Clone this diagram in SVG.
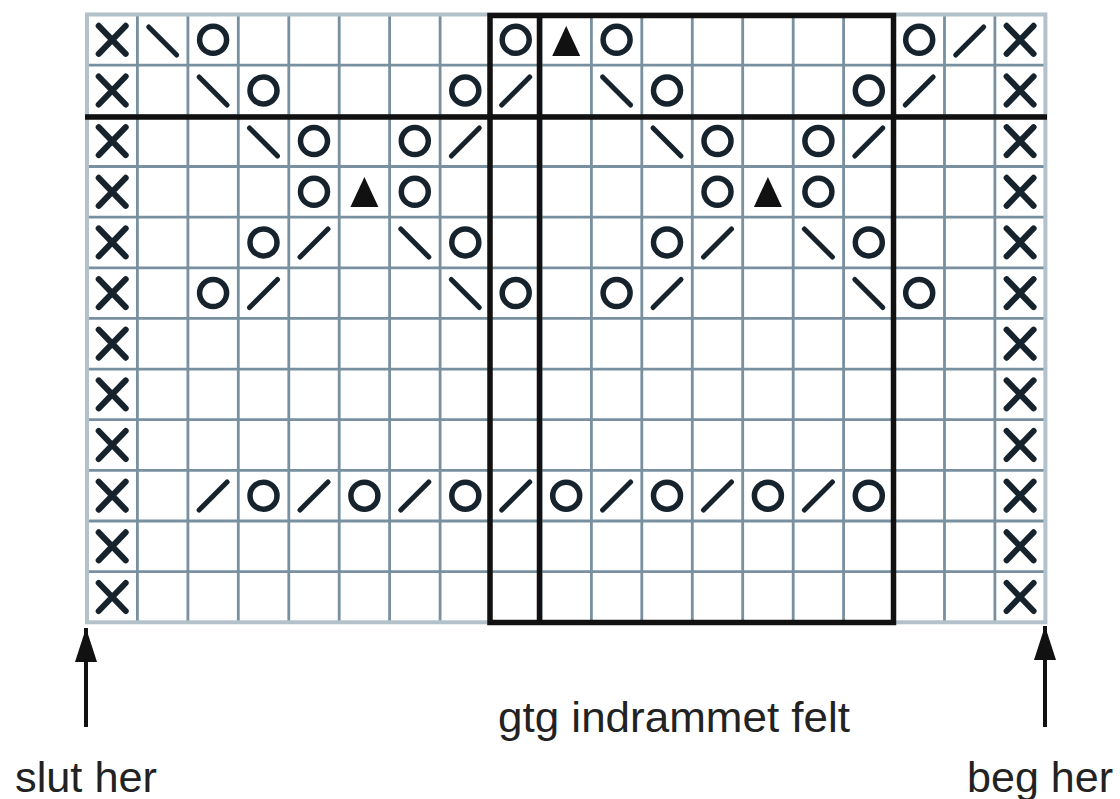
<svg xmlns="http://www.w3.org/2000/svg" xmlns:xlink="http://www.w3.org/1999/xlink" width="1120" height="799" viewBox="0 0 1120 799">
<style>
.grid{stroke:#7890a0;stroke-width:2.8;fill:none}
.border{stroke:#b3c1ca;stroke-width:4;fill:none}
.thick{stroke:#111;stroke-width:5.5;fill:none}
.sym{stroke:#16232c;fill:none}
.lbl{font-family:"Liberation Sans",Arial,sans-serif;font-size:43px;fill:#222}
.arrow{stroke:#111;stroke-width:4;fill:none}
</style>
<defs>
<g id="sx"><path class="sym" stroke-width="6" stroke-linecap="round" d="M-13.5,-14 L13.5,14 M13.5,-14 L-13.5,14"/></g>
<g id="so"><circle class="sym" stroke-width="5.5" r="13.5"/></g>
<g id="sb"><path class="sym" stroke-width="5" stroke-linecap="round" d="M-14,-14 L14,14"/></g>
<g id="sf"><path class="sym" stroke-width="5" stroke-linecap="round" d="M-14,14 L14,-14"/></g>
<g id="st"><polygon points="0,-15 14,15 -14,15" fill="#111"/></g>
<marker id="ah" markerUnits="userSpaceOnUse" markerWidth="36" markerHeight="22" refX="34" refY="11" orient="auto"><path d="M0,0 L34,11 L0,22 z" fill="#111"/></marker>
</defs>
<rect width="1120" height="799" fill="#fff"/>
<g id="grid">
<path class="grid" d="M137.4,14.5V622.3 M187.9,14.5V622.3 M238.3,14.5V622.3 M288.8,14.5V622.3 M339.2,14.5V622.3 M389.6,14.5V622.3 M440.1,14.5V622.3 M490.5,14.5V622.3 M541,14.5V622.3 M591.4,14.5V622.3 M641.8,14.5V622.3 M692.3,14.5V622.3 M742.7,14.5V622.3 M793.2,14.5V622.3 M843.6,14.5V622.3 M894,14.5V622.3 M944.5,14.5V622.3 M994.9,14.5V622.3 M87,65.2H1045.4 M87,115.8H1045.4 M87,166.5H1045.4 M87,217.1H1045.4 M87,267.8H1045.4 M87,318.4H1045.4 M87,369.1H1045.4 M87,419.7H1045.4 M87,470.4H1045.4 M87,521H1045.4 M87,571.7H1045.4"/>
<rect class="border" x="87" y="14.5" width="958.4" height="607.8"/>
</g>
<g id="frame">
<path class="thick" stroke-width="4" d="M85,117H1047"/>
<rect class="thick" x="490" y="15.5" width="403.5" height="607"/>
<path class="thick" d="M539.5,15.5V622.5"/>
</g>
<g id="stitches">
<use href="#sx" x="112.2" y="39.8"/><use href="#sb" x="162.7" y="41"/><use href="#so" x="213.1" y="39.8"/>
<use href="#so" x="515.7" y="39.8"/><use href="#st" x="566.2" y="41"/><use href="#so" x="616.6" y="39.8"/>
<use href="#so" x="919.2" y="39.8"/><use href="#sf" x="969.7" y="41"/><use href="#sx" x="1020.1" y="39.8"/>
<use href="#sx" x="112.2" y="90.5"/><use href="#sb" x="213.1" y="91"/><use href="#so" x="263.5" y="90.5"/>
<use href="#so" x="465.3" y="90.5"/><use href="#sf" x="515.7" y="91"/>
<use href="#sb" x="616.6" y="91"/><use href="#so" x="667" y="90.5"/>
<use href="#so" x="868.8" y="90.5"/><use href="#sf" x="919.2" y="91"/><use href="#sx" x="1020.1" y="90.5"/>
<use href="#sx" x="112.2" y="141.1"/><use href="#sb" x="263.5" y="142"/><use href="#so" x="314" y="141.1"/>
<use href="#so" x="414.8" y="141.1"/><use href="#sf" x="465.3" y="142"/>
<use href="#sb" x="667" y="142"/><use href="#so" x="717.5" y="141.1"/>
<use href="#so" x="818.4" y="141.1"/><use href="#sf" x="868.8" y="142"/><use href="#sx" x="1020.1" y="141.1"/>
<use href="#sx" x="112.2" y="191.8"/><use href="#so" x="314" y="191.8"/><use href="#st" x="364.4" y="192"/><use href="#so" x="414.8" y="191.8"/>
<use href="#so" x="717.5" y="191.8"/><use href="#st" x="767.9" y="192"/><use href="#so" x="818.4" y="191.8"/><use href="#sx" x="1020.1" y="191.8"/>
<use href="#sx" x="112.2" y="242.4"/><use href="#so" x="263.5" y="242.4"/><use href="#sf" x="314" y="243"/>
<use href="#sb" x="414.8" y="243"/><use href="#so" x="465.3" y="242.4"/>
<use href="#so" x="667" y="242.4"/><use href="#sf" x="717.5" y="243"/>
<use href="#sb" x="818.4" y="243"/><use href="#so" x="868.8" y="242.4"/><use href="#sx" x="1020.1" y="242.4"/>
<use href="#sx" x="112.2" y="293.1"/><use href="#so" x="213.1" y="293.1"/><use href="#sf" x="263.5" y="293.5"/>
<use href="#sb" x="465.3" y="293.5"/><use href="#so" x="515.7" y="293.1"/>
<use href="#so" x="616.6" y="293.1"/><use href="#sf" x="667" y="293.5"/>
<use href="#sb" x="868.8" y="293.5"/><use href="#so" x="919.2" y="293.1"/><use href="#sx" x="1020.1" y="293.1"/>
<use href="#sx" x="112.2" y="343.7"/><use href="#sx" x="1020.1" y="343.7"/>
<use href="#sx" x="112.2" y="394.4"/><use href="#sx" x="1020.1" y="394.4"/>
<use href="#sx" x="112.2" y="445"/><use href="#sx" x="1020.1" y="445"/>
<use href="#sx" x="112.2" y="495.7"/>
<use href="#sf" x="213.1" y="496"/><use href="#so" x="263.5" y="495.7"/>
<use href="#sf" x="314" y="496"/><use href="#so" x="364.4" y="495.7"/>
<use href="#sf" x="414.8" y="496"/><use href="#so" x="465.3" y="495.7"/>
<use href="#sf" x="515.7" y="496"/><use href="#so" x="566.2" y="495.7"/>
<use href="#sf" x="616.6" y="496"/><use href="#so" x="667" y="495.7"/>
<use href="#sf" x="717.5" y="496"/><use href="#so" x="767.9" y="495.7"/>
<use href="#sf" x="818.4" y="496"/><use href="#so" x="868.8" y="495.7"/>
<use href="#sx" x="1020.1" y="495.7"/>
<use href="#sx" x="112.2" y="546.3"/><use href="#sx" x="1020.1" y="546.3"/>
<use href="#sx" x="112.2" y="597"/><use href="#sx" x="1020.1" y="597"/>
</g>
<g id="connectors">
<path class="arrow" d="M86,727V628" marker-end="url(#ah)"/>
<path class="arrow" d="M1045,727V626" marker-end="url(#ah)"/>
</g>
<g id="labels">
<text id="lbl-end" class="lbl" x="15" y="792" textLength="142" lengthAdjust="spacingAndGlyphs">slut her</text>
<text id="lbl-frame" class="lbl" x="498" y="732" textLength="352" lengthAdjust="spacingAndGlyphs">gtg indrammet felt</text>
<text id="lbl-begin" class="lbl" x="967" y="792" textLength="146" lengthAdjust="spacingAndGlyphs">beg her</text>
</g>
</svg>
